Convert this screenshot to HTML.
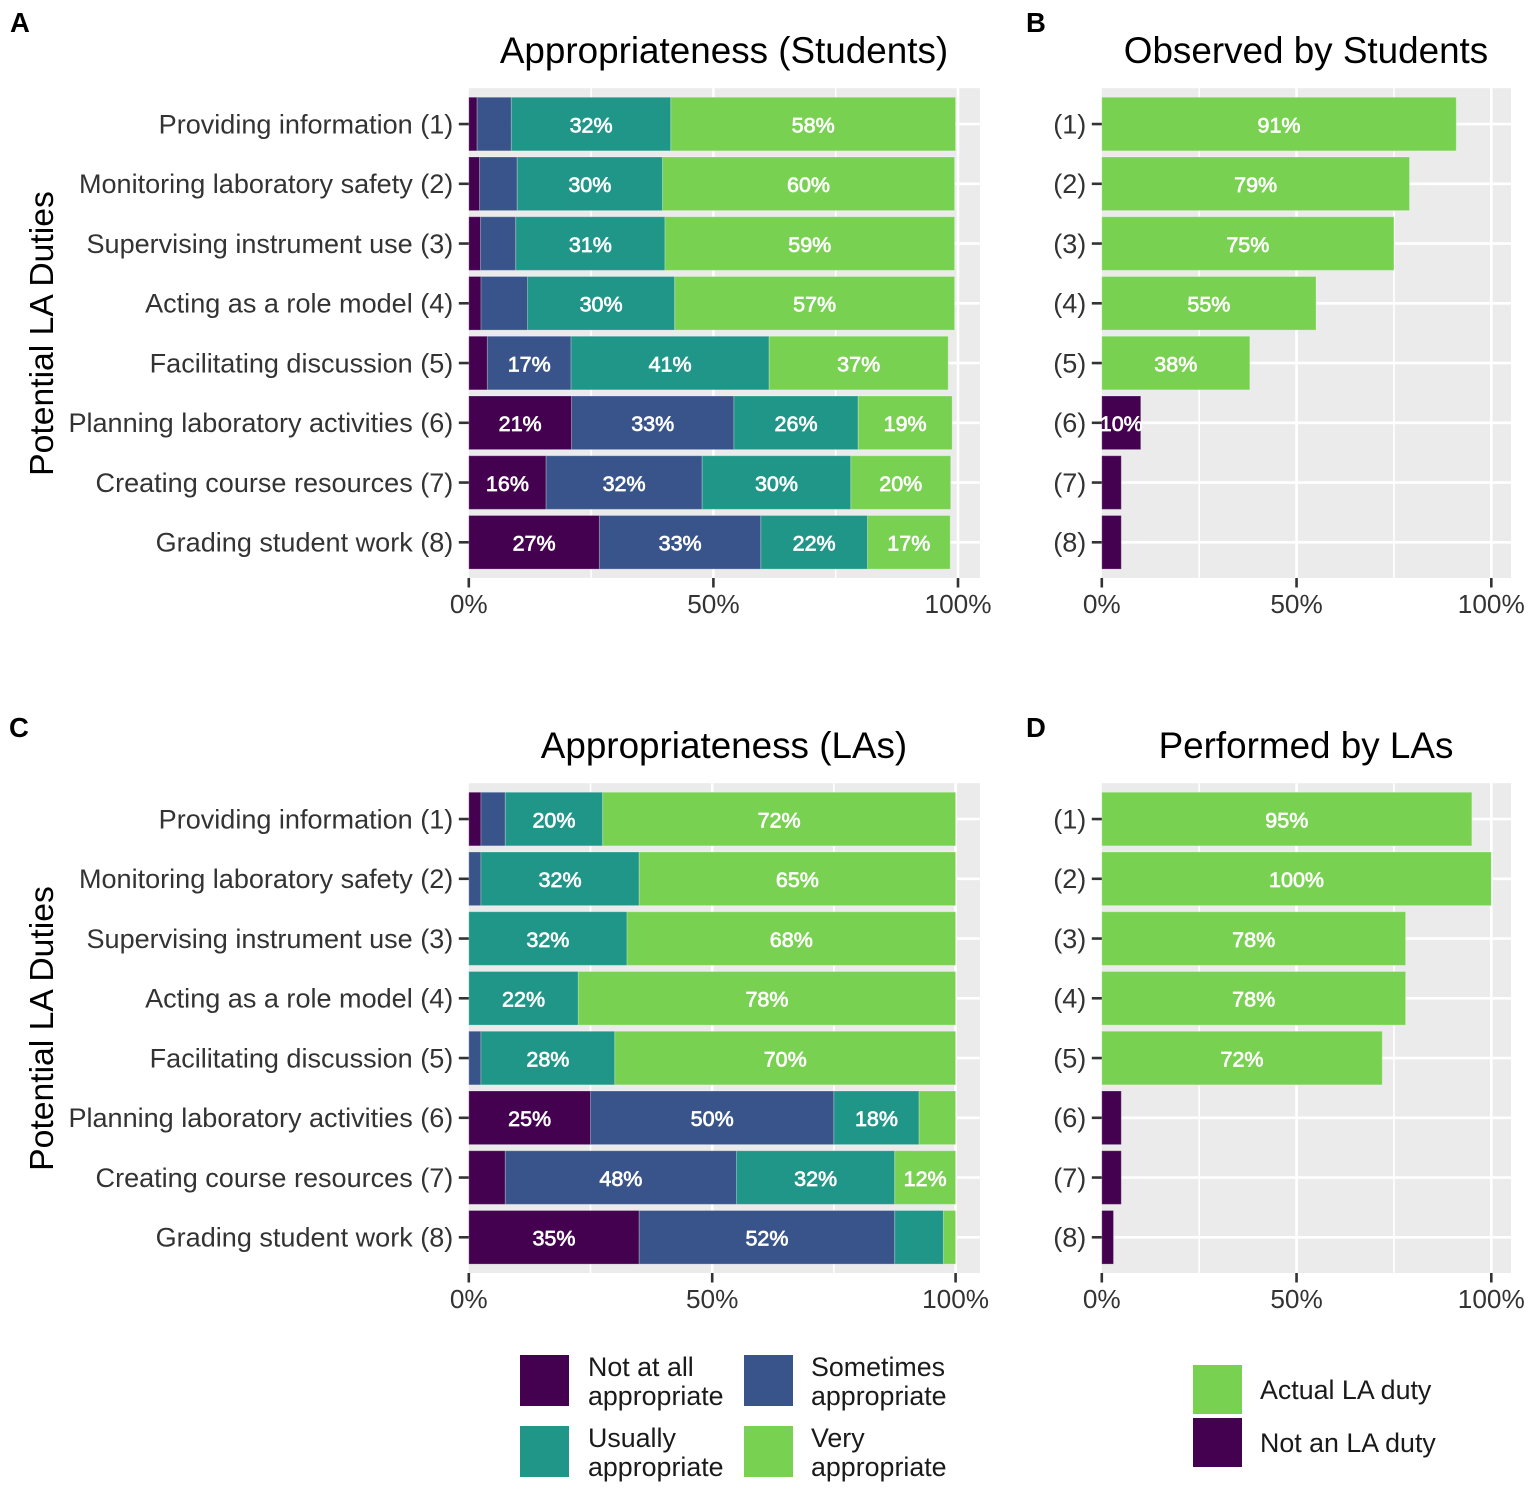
<!DOCTYPE html>
<html lang="en">
<head>
<meta charset="utf-8">
<title>Potential LA Duties</title>
<style>
html,body{margin:0;padding:0;background:#fff;}
svg{display:block;font-family:"Liberation Sans",Arial,sans-serif;}
.title{font-size:36.85px;fill:#000;text-anchor:middle;}
.tag{font-size:27.5px;font-weight:bold;fill:#000;}
.ytitle{font-size:33.7px;fill:#000;text-anchor:middle;}
.leg{font-size:26.8px;fill:#1a1a1a;}
</style>
</head>
<body>
<svg id="figure" xmlns="http://www.w3.org/2000/svg" width="1535" height="1491" viewBox="0 0 1535 1491">
  <rect x="0" y="0" width="1535" height="1491" fill="#ffffff"/>
  <g id="panels"></g>

  <text class="tag" x="10" y="32">A</text>
  <text class="tag" x="1026" y="32">B</text>
  <text class="tag" x="9" y="737">C</text>
  <text class="tag" x="1026" y="737">D</text>

  <text class="title" x="724" y="63">Appropriateness (Students)</text>
  <text class="title" x="1306" y="63">Observed by Students</text>
  <text class="title" x="724" y="758">Appropriateness (LAs)</text>
  <text class="title" x="1306" y="758">Performed by LAs</text>

  <text class="ytitle" transform="translate(53,333.5) rotate(-90)">Potential LA Duties</text>
  <text class="ytitle" transform="translate(53,1028.5) rotate(-90)">Potential LA Duties</text>

  <g>
    <rect x="520" y="1355" width="49" height="51" fill="#43014f"/>
    <text class="leg"><tspan x="588" y="1376">Not at all</tspan><tspan x="588" y="1405">appropriate</tspan></text>
    <rect x="744" y="1355" width="49" height="51" fill="#39548a"/>
    <text class="leg"><tspan x="811" y="1376">Sometimes</tspan><tspan x="811" y="1405">appropriate</tspan></text>
    <rect x="520" y="1426" width="49" height="51" fill="#1f9688"/>
    <text class="leg"><tspan x="588" y="1447">Usually</tspan><tspan x="588" y="1476">appropriate</tspan></text>
    <rect x="744" y="1426" width="49" height="51" fill="#78d150"/>
    <text class="leg"><tspan x="811" y="1447">Very</tspan><tspan x="811" y="1476">appropriate</tspan></text>
  </g>
  <g>
    <rect x="1193" y="1365" width="49" height="49" fill="#78d150"/>
    <text class="leg" x="1260" y="1399">Actual LA duty</text>
    <rect x="1193" y="1418" width="49" height="49" fill="#43014f"/>
    <text class="leg" x="1260" y="1452">Not an LA duty</text>
  </g>
</svg>
<script>
// ---- data ----
const dutyNames = ["Providing information (1)","Monitoring laboratory safety (2)","Supervising instrument use (3)","Acting as a role model (4)","Facilitating discussion (5)","Planning laboratory activities (6)","Creating course resources (7)","Grading student work (8)"];
const dutyShort = ["(1)","(2)","(3)","(4)","(5)","(6)","(7)","(8)"];
const xTickValues = [0,50,100];
const xTickLabels = ["0%","50%","100%"];

// Appropriateness (Students): percent per duty
const studentsNotAtAll = [1.7,2.2,2.4,2.5,3.8,21,15.8,26.7];
const studentsSometimes = [7,7.7,7.2,9.5,17.1,33.2,31.9,33];
const studentsUsually = [32.6,29.7,30.5,30.1,40.5,25.4,30.4,21.8];
const studentsVery = [58.2,59.7,59.2,57.2,36.6,19.2,20.4,16.9];
const studentsNotAtAllLabels = ["","","","","","21%","16%","27%"];
const studentsSometimesLabels = ["","","","","17%","33%","32%","33%"];
const studentsUsuallyLabels = ["32%","30%","31%","30%","41%","26%","30%","22%"];
const studentsVeryLabels = ["58%","60%","59%","57%","37%","19%","20%","17%"];

// Appropriateness (LAs): percent per duty
const lasNotAtAll = [2.5,0,0,0,0,25,7.5,35];
const lasSometimes = [5,2.5,0,0,2.5,50,47.5,52.5];
const lasUsually = [20,32.5,32.5,22.5,27.5,17.5,32.5,10];
const lasVery = [72.5,65,67.5,77.5,70,7.5,12.5,2.5];
const lasNotAtAllLabels = ["","","","","","25%","","35%"];
const lasSometimesLabels = ["","","","","","50%","48%","52%"];
const lasUsuallyLabels = ["20%","32%","32%","22%","28%","18%","32%",""];
const lasVeryLabels = ["72%","65%","68%","78%","70%","","12%",""];

// Observed by students / performed by LAs
const observedValues = [91,79,75,55,38,10,5,5];
const observedLabels = ["91%","79%","75%","55%","38%","10%","",""];
const observedActual = [true,true,true,true,true,false,false,false];
const performedValues = [95,100,78,78,72,5,5,3];
const performedLabels = ["95%","100%","78%","78%","72%","","",""];
const performedActual = [true,true,true,true,true,false,false,false];

// ---- style constants ----
const COLOR_NOT = "#43014f", COLOR_SOME = "#39548a", COLOR_USUAL = "#1f9688", COLOR_VERY = "#78d150";
const SVGNS = "http://www.w3.org/2000/svg";
const root = document.getElementById("panels");

function mk(tag, attrs, parent, text) {
  const el = document.createElementNS(SVGNS, tag);
  for (const k in attrs) el.setAttribute(k, attrs[k]);
  if (text !== undefined) el.textContent = text;
  parent.appendChild(el);
  return el;
}

function drawPanel(cfg) {
  const x = v => cfg.x0 + (cfg.x100 - cfg.x0) * v / 100;
  const rowPitch = 59.75;
  const y = i => cfg.top + 35.85 + i * rowPitch;
  const barH = 53.6;
  const panelBottom = cfg.top + 489.8;

  const g = mk("g", {}, root);
  
  

  const bg = mk("rect", {x: cfg.x0, y: cfg.top, width: cfg.right - cfg.x0, height: panelBottom - cfg.top, fill: "#ebebeb"}, g);
  
  

  [25,50,75,100].forEach(v => {
    const major = v % 50 === 0;
    const line = mk("line", {x1: x(v), x2: x(v), y1: cfg.top, y2: panelBottom, stroke: "#ffffff", "stroke-width": major ? 2.6 : 1.6}, g);
    
    
  });
  cfg.rows.forEach((_, i) => {
    const line = mk("line", {x1: cfg.x0, x2: cfg.right, y1: y(i), y2: y(i), stroke: "#ffffff", "stroke-width": 2.6}, g);
    
    
  });

  cfg.series.forEach((s, si) => {
    cfg.rows.forEach((_, i) => {
      let start = 0;
      for (let p = 0; p < si; p++) start += cfg.series[p].values[i];
      const val = s.values[i];
      if (val <= 0) return;
      const fill = s.colorOf ? s.colorOf(i) : s.color;
      const r = mk("rect", {x: x(start), y: y(i) - barH / 2, width: x(start + val) - x(start), height: barH, fill: fill, stroke: "#ffffff", "stroke-opacity": 0.25, "stroke-width": 1}, g);
      
      
    });
  });
  cfg.series.forEach((s, si) => {
    cfg.rows.forEach((_, i) => {
      let start = 0;
      for (let p = 0; p < si; p++) start += cfg.series[p].values[i];
      const label = s.labels[i];
      if (!label) return;
      const t = mk("text", {x: x(start + s.values[i] / 2), y: y(i) + 8.2, "text-anchor": "middle", "font-size": "21.5px", fill: "#ffffff", stroke: "#ffffff", "stroke-width": 0.7}, g, label);
      
      
    });
  });

  cfg.rows.forEach((name, i) => {
    const tick = mk("line", {x1: cfg.x0 - 10, x2: cfg.x0, y1: y(i), y2: y(i), stroke: "#333333", "stroke-width": 2.6}, g);
    
    
    const t = mk("text", {x: cfg.x0 - 15.5, y: y(i) + 9.4, "text-anchor": "end", "font-size": "27.05px", fill: "#333333"}, g, name);
    
    
  });
  xTickValues.forEach((v, i) => {
    const tick = mk("line", {x1: x(v), x2: x(v), y1: panelBottom, y2: panelBottom + 9.5, stroke: "#333333", "stroke-width": 2.6}, g);
    
    
    const t = mk("text", {x: x(v), y: panelBottom + 35, "text-anchor": "middle", "font-size": "26.2px", fill: "#333333"}, g, xTickLabels[i]);
    
    
  });
}

drawPanel({
  name: "panel-appropriateness-students", x0: 468.8, x100: 958, right: 980, top: 88.2, rows: dutyNames,
  series: [
    {key: "not-at-all", values: studentsNotAtAll, labels: studentsNotAtAllLabels, color: COLOR_NOT},
    {key: "sometimes", values: studentsSometimes, labels: studentsSometimesLabels, color: COLOR_SOME},
    {key: "usually", values: studentsUsually, labels: studentsUsuallyLabels, color: COLOR_USUAL},
    {key: "very", values: studentsVery, labels: studentsVeryLabels, color: COLOR_VERY}
  ]
});
drawPanel({
  name: "panel-observed-by-students", x0: 1101.8, x100: 1491.3, right: 1511, top: 88.2, rows: dutyShort,
  series: [
    {key: "observed", values: observedValues, labels: observedLabels, colorOf: i => observedActual[i] ? COLOR_VERY : COLOR_NOT}
  ]
});
drawPanel({
  name: "panel-appropriateness-las", x0: 468.8, x100: 955.6, right: 980, top: 783.2, rows: dutyNames,
  series: [
    {key: "not-at-all", values: lasNotAtAll, labels: lasNotAtAllLabels, color: COLOR_NOT},
    {key: "sometimes", values: lasSometimes, labels: lasSometimesLabels, color: COLOR_SOME},
    {key: "usually", values: lasUsually, labels: lasUsuallyLabels, color: COLOR_USUAL},
    {key: "very", values: lasVery, labels: lasVeryLabels, color: COLOR_VERY}
  ]
});
drawPanel({
  name: "panel-performed-by-las", x0: 1101.8, x100: 1491.3, right: 1511, top: 783.2, rows: dutyShort,
  series: [
    {key: "performed", values: performedValues, labels: performedLabels, colorOf: i => performedActual[i] ? COLOR_VERY : COLOR_NOT}
  ]
});
</script>
</body>
</html>
